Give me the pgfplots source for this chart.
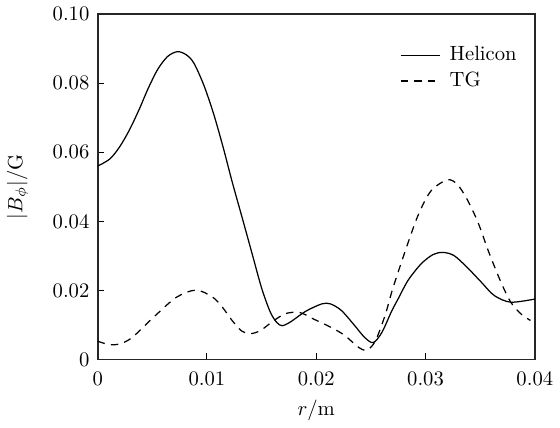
\documentclass[border=0pt]{standalone}
\usepackage{pgfplots}
\pgfplotsset{compat=1.18}
\begin{document}
\begin{tikzpicture}
\begin{axis}[
  scale only axis,
  width=212pt, height=167.6pt,
  xmin=0, xmax=0.04, ymin=0, ymax=0.10,
  xtick={0,0.01,0.02,0.03,0.04},
  xticklabels={0,0.01,0.02,0.03,0.04},
  ytick={0,0.02,0.04,0.06,0.08,0.10},
  yticklabels={0,0.02,0.04,0.06,0.08,0.10},
  scaled ticks=false,
  tick align=inside,
  xtick pos=bottom, ytick pos=left,
  major tick length=3pt,
  tick style={black, line width=0.5pt},
  axis line style={line width=0.8pt, black!85},
  xticklabel style={yshift=-2.4pt},
  yticklabel style={xshift=-0.5pt},
  xlabel={$r/\mathrm{m}$},
  ylabel={$|B_\phi|/\mathrm{G}$},
  xlabel style={yshift=0pt},
  ylabel style={yshift=5pt},
  legend style={draw=none, fill=none, at={(0.983,0.931)}, anchor=north east, row sep=0pt, column sep=2.5pt},
  legend cell align=left,
  legend image code/.code={\draw[#1] (0pt,0pt) -- (19pt,0pt);},
]
\addplot[black, line width=0.6pt, smooth, tension=0.5] coordinates {
(0.0000,0.0560) (0.0011,0.0580) (0.0020,0.0615) (0.0029,0.0664) (0.0038,0.0724)
(0.0046,0.0783) (0.0055,0.0840) (0.0064,0.0877) (0.0073,0.0891) (0.0081,0.0882)
(0.0088,0.0858) (0.0097,0.0795) (0.0106,0.0712) (0.0115,0.0612) (0.0123,0.0515)
(0.0132,0.0413) (0.0141,0.0310) (0.0150,0.0207) (0.0158,0.0137) (0.0164,0.0107)
(0.0169,0.0098) (0.0177,0.0110) (0.0190,0.0139) (0.0205,0.0161) (0.0213,0.0161)
(0.0223,0.0142) (0.0235,0.0099) (0.0244,0.0065) (0.0252,0.0049) (0.0260,0.0078)
(0.0269,0.0140) (0.0275,0.0176) (0.0284,0.0229) (0.0296,0.0277) (0.0307,0.0304)
(0.0316,0.0310) (0.0326,0.0301) (0.0338,0.0267) (0.0351,0.0224) (0.0363,0.0185)
(0.0378,0.0166) (0.0400,0.0175)
};
\addlegendentry{Helicon}
\addplot[black, line width=0.6pt, dash pattern=on 3.6pt off 3pt, smooth, tension=0.5] coordinates {
(0.0000,0.0053) (0.0011,0.0043) (0.0021,0.0046) (0.0032,0.0065) (0.0053,0.0128)
(0.0072,0.0180) (0.0090,0.0201) (0.0105,0.0181) (0.0114,0.0152) (0.0123,0.0113)
(0.0132,0.0082) (0.0140,0.0075) (0.0149,0.0084) (0.0160,0.0110) (0.0172,0.0133)
(0.0185,0.0136) (0.0197,0.0118) (0.0213,0.0094) (0.0226,0.0070) (0.0238,0.0037)
(0.0246,0.0027) (0.0254,0.0053) (0.0263,0.0128) (0.0270,0.0205) (0.0281,0.0310)
(0.0293,0.0416) (0.0305,0.0488) (0.0320,0.0520) (0.0329,0.0507) (0.0338,0.0464)
(0.0348,0.0397) (0.0358,0.0310) (0.0369,0.0224) (0.0378,0.0166) (0.0387,0.0133)
(0.0396,0.0113)
};
\addlegendentry{TG}
\end{axis}
\end{tikzpicture}
\end{document}
